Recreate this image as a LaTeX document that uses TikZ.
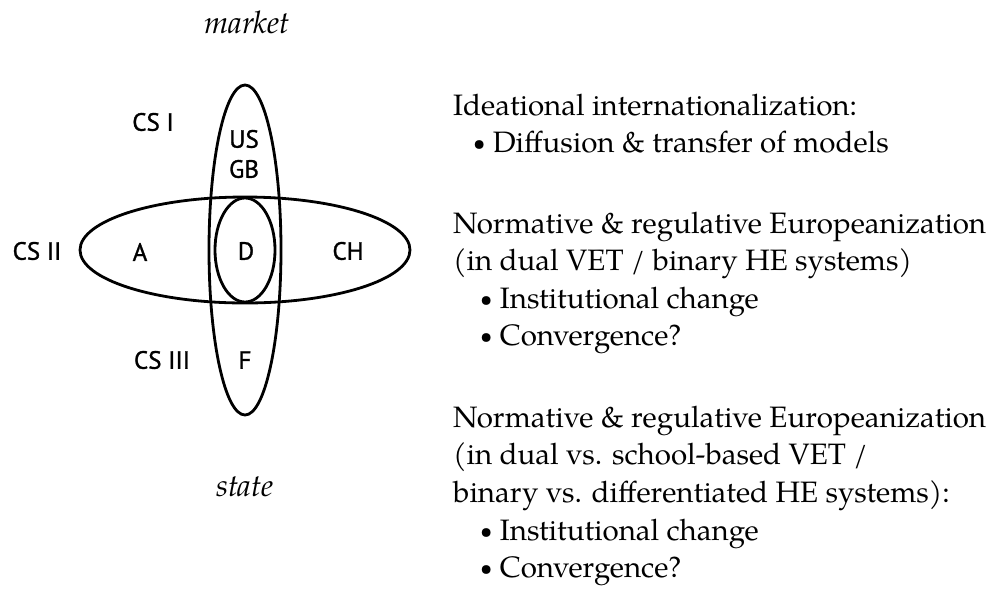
\documentclass[tikz,border=0pt]{standalone}
\usepackage{fontspec}
\setmainfont{texgyrepagella}[Extension=.otf, UprightFont=*-regular, ItalicFont=*-italic, BoldFont=*-bold, BoldItalicFont=*-bolditalic]
\newfontfamily\lblfont{PT Sans}[FakeBold=1.2]
\newcommand{\smbul}{\raisebox{2pt}{\fontsize{22}{22}\selectfont\textbullet}}
\begin{document}
\begin{tikzpicture}[x=1pt,y=-1pt,
  ring/.style={draw=black, line width=2.8pt},
  cslabel/.style={font=\lblfont\fontsize{25}{28}\selectfont, inner sep=0pt},
  axislabel/.style={font=\itshape\fontsize{31}{36}\selectfont, inner sep=0pt, anchor=base},
  txt/.style={font=\fontsize{29.5}{36}\selectfont, inner sep=0pt, anchor=base west}]
\useasboundingbox (0,0) rectangle (993,590);
% ellipses
\draw[ring] (245,250) ellipse [x radius=36, y radius=165];
\draw[ring] (245,250) ellipse [x radius=165, y radius=53];
\draw[ring] (245,250) ellipse [x radius=30, y radius=52];
% axis labels
\node[axislabel] (market) at (247,33) {market};
\node[axislabel] (state) at (245,496) {state};
% cluster labels
\node[cslabel] (cs1) at (153,122) {CS I};
\node[cslabel] (us) at (244,139) {US};
\node[cslabel] (gb) at (244,169) {GB};
\node[cslabel] (cs2) at (37,251) {CS II};
\node[cslabel] (a) at (140,252) {A};
\node[cslabel] (d) at (246,251) {D};
\node[cslabel] (ch) at (348,251) {CH};
\node[cslabel] (cs3) at (162,360) {CS III};
\node[cslabel] (f) at (245,360) {F};
% right text
\node[txt] (t1) at (453,115) {Ideational internationalization:};
\node[txt] (t2) at (473,152) {\smbul\ Diffusion \& transfer of models};
\node[txt] (t3) at (453,233) {Normative \& regulative Europeanization};
\node[txt] (t4) at (453,270) {(in dual VET / binary HE systems)};
\node[txt] (t5) at (480,308) {\smbul\ Institutional change};
\node[txt] (t6) at (480,345) {\smbul\ Convergence?};
\node[txt] (t7) at (453,427) {Normative \& regulative Europeanization};
\node[txt] (t8) at (453,464) {(in dual vs. school-based VET /};
\node[txt] (t9) at (453,502) {binary vs. differentiated HE systems):};
\node[txt] (t10) at (480,540) {\smbul\ Institutional change};
\node[txt] (t11) at (480,577) {\smbul\ Convergence?};
\end{tikzpicture}
\end{document}
